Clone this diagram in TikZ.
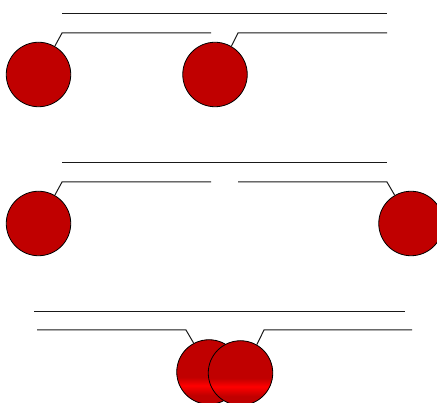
\documentclass[tikz,border=0pt]{standalone}
\definecolor{dred}{HTML}{C00000}
\definecolor{bred}{HTML}{FF0000}
\pgfdeclareverticalshading{redband}{100bp}{color(0bp)=(dred); color(32bp)=(dred); color(39.5bp)=(bred); color(46bp)=(dred); color(100bp)=(dred)}
\tikzset{
  ball/.style={circle, draw=black, line width=0.8pt, fill=dred, minimum size=64.5pt, inner sep=0pt},
  sball/.style={ball, shading=redband},
  rule/.style={line width=1pt, draw=black!90},
}
\begin{document}
\begin{tikzpicture}[x=1pt,y=-1pt]
\useasboundingbox (0,0) rectangle (437,403);
\clip (0,0) rectangle (437,403);
% row 1
\draw[rule] (62,14) coordinate (r1a) -- (387,14) coordinate (r1b);
\node[ball] (c1) at (38.5,74.5) {};
\node[ball] (c2) at (215,74.5) {};
\coordinate (k1) at (62,33);
\coordinate (e1) at (211,33);
\coordinate (k2) at (238,33);
\coordinate (e2) at (387,33);
\draw[rule] (c1.60) -- (k1) -- (e1);
\draw[rule] (c2.60) -- (k2) -- (e2);
% row 2
\draw[rule] (62,163) coordinate (r2a) -- (387,163) coordinate (r2b);
\node[ball] (c3) at (38.5,223.5) {};
\node[ball] (c4) at (411,223.5) {};
\coordinate (k3) at (62,182);
\coordinate (e3) at (211,182);
\coordinate (k4) at (387,182);
\coordinate (e4) at (238,182);
\draw[rule] (c3.60) -- (k3) -- (e3);
\draw[rule] (c4.120) -- (k4) -- (e4);
% row 3
\draw[rule] (34,312) coordinate (r3a) -- (405,312) coordinate (r3b);
\node[sball] (c5) at (209,372) {};
\node[sball] (c6) at (240.5,373) {};
\coordinate (k5) at (186,330);
\coordinate (e5) at (37,330);
\coordinate (k6) at (264,330);
\coordinate (e6) at (412,330);
\draw[rule] (c5.118) -- (k5) -- (e5);
\draw[rule] (c6.60) -- (k6) -- (e6);
\end{tikzpicture}
\end{document}
